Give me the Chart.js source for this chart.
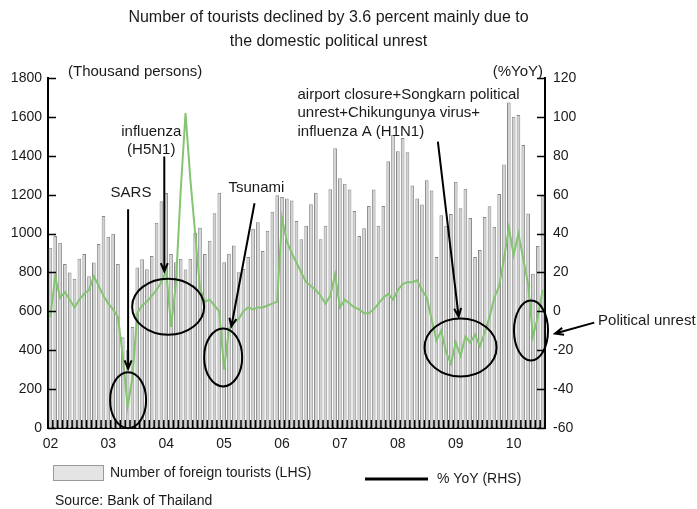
<!DOCTYPE html>
<html>
<head>
<meta charset="utf-8">
<script src="https://cdn.jsdelivr.net/npm/chart.js@4.4.1/dist/chart.umd.min.js"></script>
<style>
  html, body { margin: 0; padding: 0; background: #fff; }
</style>
</head>
<body>
<canvas id="chart" width="697" height="509"></canvas>
<script>
// year labels on the x axis (one per January)
const years = ['02', '03', '04', '05', '06', '07', '08', '09', '10'];

// foreign tourist arrivals, thousand persons, Jan..Dec
const tourists02 = [927, 987, 953, 843, 800, 767, 871, 895, 780, 851, 946, 1090];
const tourists03 = [984, 999, 843, 467, 400, 520, 825, 868, 817, 885, 1055, 1166];
const tourists04 = [1209, 895, 853, 870, 815, 870, 1004, 1030, 895, 963, 1104, 1210];
const tourists05 = [853, 896, 938, 801, 818, 880, 1025, 1058, 910, 1015, 1112, 1197];
const tourists06 = [1188, 1180, 1170, 1065, 971, 1040, 1151, 1210, 971, 1040, 1228, 1439];
const tourists07 = [1284, 1256, 1227, 1116, 988, 1027, 1142, 1227, 1040, 1142, 1372, 1508];
const tourists08 = [1423, 1492, 1418, 1247, 1180, 1150, 1274, 1222, 880, 1094, 1040, 1100];
const tourists09 = [1266, 1130, 1230, 1080, 880, 915, 1085, 1140, 1035, 1204, 1355, 1674];
const tourists10 = [1601, 1610, 1456, 1103, 793, 936, 1200];

// % change year on year
const yoy02 = [-3, 18, 7, 10, 6, 2, 6, 9, 11, 18, 13, 8];
const yoy03 = [4, 1, -3, -23, -49, -34, -1, 3, 5, 8, 11, 15];
const yoy04 = [21, -8, 14, 62, 102, 68, 40, 12, 5, 6, 3, 0];
const yoy05 = [-30, -9, -6, -4, 0, 2, 1, 2, 2, 3, 4, 5];
const yoy06 = [48, 36, 30, 25, 20, 15, 13, 11, 8, 4, 8, 19];
const yoy07 = [2, 6, 4, 2, 1, -1, -1, 1, 4, 7, 9, 6];
const yoy08 = [11, 14, 15, 15, 16, 11, 7, -4, -15, -10, -21, -27];
const yoy09 = [-16, -23, -13, -16, -12, -18, -11, -3, 7, 13, 27, 43];
const yoy10 = [29, 40, 27, 14, -13, -3, 11];

const tourists = [].concat(tourists02, tourists03, tourists04, tourists05, tourists06,
  tourists07, tourists08, tourists09, tourists10);
const yoy = [].concat(yoy02, yoy03, yoy04, yoy05, yoy06, yoy07, yoy08, yoy09, yoy10);
const months = tourists.map((_, i) => years[Math.floor(i / 12)] + '/' + (i % 12 + 1));

const FONT = '"Liberation Sans", Arial, sans-serif';
const INK = '#1a1a1a';

// callouts: text anchors, arrows and rings are placed in (month index, %YoY) units
const notes = [
  { lines: ['SARS'], at: [16.7, 61], align: 'center',
    arrow: [[16.1, 52.5], [16.1, -29.5]], ring: { at: [16.1, -45.7], rx: 18, ry: 28 } },
  { lines: ['influenza', '(H5N1)'], at: [20.9, 92.4], align: 'center',
    arrow: [[23.6, 79.6], [23.6, 20.5]], ring: { at: [24.4, 2.4], rx: 36, ry: 28 } },
  { lines: ['Tsunami'], at: [42.7, 63.3], align: 'center',
    arrow: [[42.3, 55.6], [37.5, -7.8]], ring: { at: [35.8, -23.7], rx: 19, ry: 29 } },
  { lines: ['airport closure+Songkarn political', 'unrest+Chikungunya virus+', 'influenza A (H1N1)'],
    at: [51.2, 111.4], align: 'left',
    arrow: [[80.3, 87.3], [84.6, -2.7]], ring: { at: [85.0, -18.6], rx: 36, ry: 29 } },
  { lines: ['Political unrest'], at: [113.5, -4.8], align: 'left',
    arrow: [[112.7, -5.8], [104.6, -11.4]], ring: { at: [99.6, -9.9], rx: 17, ry: 30 } }
];

function drawArrow(ctx, x1, y1, x2, y2) {
  const a = Math.atan2(y2 - y1, x2 - x1), h = 9;
  ctx.beginPath();
  ctx.moveTo(x1, y1);
  ctx.lineTo(x2, y2);
  ctx.moveTo(x2 - h * Math.cos(a - 0.4), y2 - h * Math.sin(a - 0.4));
  ctx.lineTo(x2, y2);
  ctx.lineTo(x2 - h * Math.cos(a + 0.4), y2 - h * Math.sin(a + 0.4));
  ctx.stroke();
}

const decorations = {
  id: 'decorations',
  afterDatasetsDraw(chart) {
    const { ctx, chartArea: area, scales } = chart;
    const pt = (p) => [scales.x.getPixelForValue(p[0]), scales.y1.getPixelForValue(p[1])];
    ctx.save();
    ctx.strokeStyle = '#000';

    // inward tick marks on both value axes and the month comb along the bottom
    ctx.lineWidth = 1.5;
    ctx.beginPath();
    for (let v = 0; v <= 1800; v += 200) {
      const y = Math.round(scales.y.getPixelForValue(v)) + 0.5;
      ctx.moveTo(area.left, y); ctx.lineTo(area.left + 8, y);
    }
    for (let v = -60; v <= 120; v += 20) {
      const y = Math.round(scales.y1.getPixelForValue(v)) + 0.5;
      ctx.moveTo(area.right - 8, y); ctx.lineTo(area.right, y);
    }
    for (let i = 0; i <= months.length; i++) {
      const x = scales.x.getPixelForValue(i - 0.5);
      ctx.moveTo(x, area.bottom); ctx.lineTo(x, area.bottom - 8);
    }
    ctx.stroke();

    // callouts
    ctx.lineWidth = 2;
    ctx.fillStyle = INK;
    ctx.font = '15px ' + FONT;
    ctx.textBaseline = 'middle';
    notes.forEach(n => {
      const [tx, ty] = pt(n.at);
      ctx.textAlign = n.align;
      n.lines.forEach((s, k) => ctx.fillText(s, tx, ty + k * 18.5));
      const [a, b] = [pt(n.arrow[0]), pt(n.arrow[1])];
      drawArrow(ctx, a[0], a[1], b[0], b[1]);
      const [cx, cy] = pt(n.ring.at);
      ctx.beginPath();
      ctx.ellipse(cx, cy, n.ring.rx, n.ring.ry, 0, 0, Math.PI * 2);
      ctx.stroke();
    });
    ctx.restore();
  },
  afterDraw(chart) {
    const { ctx, chartArea: area } = chart;
    ctx.save();
    ctx.fillStyle = INK;
    ctx.textBaseline = 'middle';

    // title
    ctx.font = '16px ' + FONT;
    ctx.textAlign = 'center';
    const mid = chart.width / 2 - 20;
    ctx.fillText('Number of tourists declined by 3.6 percent mainly due to', mid, 18);
    ctx.fillText('the domestic political unrest', mid, 42);

    // unit captions above the axes
    ctx.font = '15px ' + FONT;
    ctx.textAlign = 'left';
    ctx.fillText('(Thousand persons)', area.left + 20, area.top - 6);
    ctx.textAlign = 'right';
    ctx.fillText('(%YoY)', area.right - 2, area.top - 6);

    // legend
    const ly = area.bottom + 45;
    ctx.fillStyle = '#e4e4e4';
    ctx.fillRect(53.5, ly - 7.5, 50, 15);
    ctx.strokeStyle = '#9a9a9a';
    ctx.lineWidth = 1;
    ctx.strokeRect(53.5, ly - 7.5, 50, 15);
    ctx.fillStyle = INK;
    ctx.font = '14px ' + FONT;
    ctx.textAlign = 'left';
    ctx.fillText('Number of foreign tourists (LHS)', 110, ly);
    ctx.strokeStyle = '#000';
    ctx.lineWidth = 3;
    ctx.beginPath();
    ctx.moveTo(365, ly + 6); ctx.lineTo(428, ly + 6);
    ctx.stroke();
    ctx.fillText('% YoY (RHS)', 437, ly + 6);

    // source
    ctx.fillText('Source: Bank of Thailand', 55, area.bottom + 73);
    ctx.restore();
  }
};

new Chart(document.getElementById('chart').getContext('2d'), {
  type: 'bar',
  data: {
    labels: months,
    datasets: [
      {
        type: 'line',
        label: '% YoY (RHS)',
        data: yoy,
        yAxisID: 'y1',
        borderColor: '#84c571',
        borderWidth: 2,
        pointRadius: 0,
        tension: 0,
        order: 0
      },
      {
        type: 'bar',
        label: 'Number of foreign tourists (LHS)',
        data: tourists,
        yAxisID: 'y',
        backgroundColor: '#d2d2d2',
        borderColor: '#888888',
        borderWidth: 1,
        barPercentage: 0.76,
        categoryPercentage: 1,
        order: 1
      }
    ]
  },
  options: {
    responsive: false,
    animation: false,
    events: [],
    layout: { padding: { top: 78 } },
    plugins: {
      legend: { display: false },
      title: { display: false },
      tooltip: { enabled: false }
    },
    scales: {
      x: {
        grid: { display: false, drawTicks: false },
        border: { color: '#000', width: 2 },
        ticks: {
          autoSkip: false,
          maxRotation: 0,
          padding: 8,
          color: INK,
          font: { family: FONT, size: 14 },
          callback: (v, i) => (i % 12 === 0 ? years[i / 12] : '')
        },
        afterFit: s => { s.height = 81; }
      },
      y: {
        position: 'left',
        min: 0,
        max: 1800,
        grid: { display: false, drawTicks: false },
        border: { color: '#000', width: 2 },
        ticks: {
          stepSize: 200,
          padding: 6,
          color: INK,
          font: { family: FONT, size: 14 },
          callback: v => String(v)
        },
        afterFit: s => { s.width = 48; }
      },
      y1: {
        position: 'right',
        min: -60,
        max: 120,
        grid: { display: false, drawTicks: false },
        border: { color: '#000', width: 2 },
        ticks: {
          stepSize: 20,
          padding: 8,
          color: INK,
          font: { family: FONT, size: 14 },
          callback: v => String(v)
        },
        afterFit: s => { s.width = 152; }
      }
    }
  },
  plugins: [decorations]
});
</script>
</body>
</html>
